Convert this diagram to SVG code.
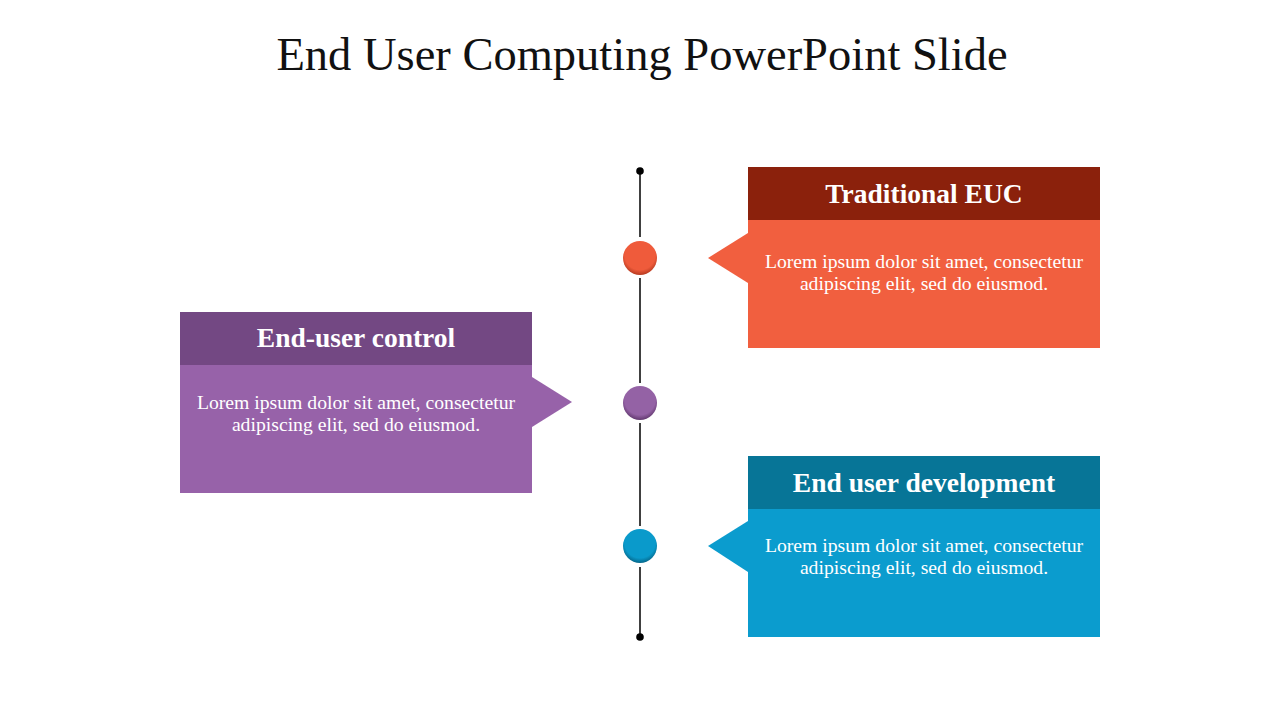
<svg xmlns="http://www.w3.org/2000/svg" width="1280" height="720" viewBox="0 0 1280 720">
<defs>
<style>
.title{font-family:"Liberation Serif","DejaVu Serif",serif;font-size:46.5px;fill:#111;text-anchor:middle}
.hd{font-family:"Liberation Serif","DejaVu Serif",serif;font-size:27.5px;font-weight:bold;fill:#fff;text-anchor:middle}
.bd{font-family:"Liberation Serif","DejaVu Serif",serif;font-size:19.7px;fill:#fff;text-anchor:middle}
.ln{stroke:#000;stroke-width:1.5;fill:none}
</style>
<radialGradient id="gO" cx="0.5" cy="0.4" r="0.6"><stop offset="0.75" stop-color="#EF5B3B"/><stop offset="1" stop-color="#B63A20"/></radialGradient>
<radialGradient id="gP" cx="0.5" cy="0.4" r="0.6"><stop offset="0.75" stop-color="#9462A5"/><stop offset="1" stop-color="#62386F"/></radialGradient>
<radialGradient id="gB" cx="0.5" cy="0.4" r="0.6"><stop offset="0.75" stop-color="#0A9ACB"/><stop offset="1" stop-color="#05678A"/></radialGradient>
</defs>
<rect width="1280" height="720" fill="#fff"/>
<text class="title" x="642" y="70">End User Computing PowerPoint Slide</text>
<g id="connectors">
<line class="ln" x1="640" y1="171" x2="640" y2="237"/>
<line class="ln" x1="640" y1="278" x2="640" y2="383"/>
<line class="ln" x1="640" y1="423" x2="640" y2="526"/>
<line class="ln" x1="640" y1="567" x2="640" y2="637"/>
<circle cx="640" cy="171" r="3.8" fill="#000"/>
<circle cx="640" cy="637" r="3.8" fill="#000"/>
</g>
<g id="dot1"><circle cx="640" cy="258" r="17" fill="url(#gO)"/></g>
<g id="dot2"><circle cx="640" cy="403" r="17" fill="url(#gP)"/></g>
<g id="dot3"><circle cx="640" cy="546" r="17" fill="url(#gB)"/></g>
<g id="traditional-euc">
<rect x="748" y="220" width="352" height="128" fill="#F15F3F"/>
<polygon points="748,233 708,258 748,283" fill="#F15F3F"/>
<rect x="748" y="167" width="352" height="53" fill="#8B210C"/>
<text class="hd" x="924" y="203">Traditional EUC</text>
<text class="bd" x="924" y="268">Lorem ipsum dolor sit amet, consectetur</text>
<text class="bd" x="924" y="290">adipiscing elit, sed do eiusmod.</text>
</g>
<g id="end-user-control">
<rect x="180" y="365" width="352" height="128" fill="#9762A9"/>
<polygon points="532,377 572,402 532,427" fill="#9762A9"/>
<rect x="180" y="312" width="352" height="53" fill="#734883"/>
<text class="hd" x="356" y="347">End-user control</text>
<text class="bd" x="356" y="409">Lorem ipsum dolor sit amet, consectetur</text>
<text class="bd" x="356" y="431">adipiscing elit, sed do eiusmod.</text>
</g>
<g id="end-user-development">
<rect x="748" y="509" width="352" height="128" fill="#0B9CCE"/>
<polygon points="748,521 708,546 748,572" fill="#0B9CCE"/>
<rect x="748" y="456" width="352" height="53" fill="#077597"/>
<text class="hd" x="924" y="492">End user development</text>
<text class="bd" x="924" y="552">Lorem ipsum dolor sit amet, consectetur</text>
<text class="bd" x="924" y="574">adipiscing elit, sed do eiusmod.</text>
</g>
</svg>
